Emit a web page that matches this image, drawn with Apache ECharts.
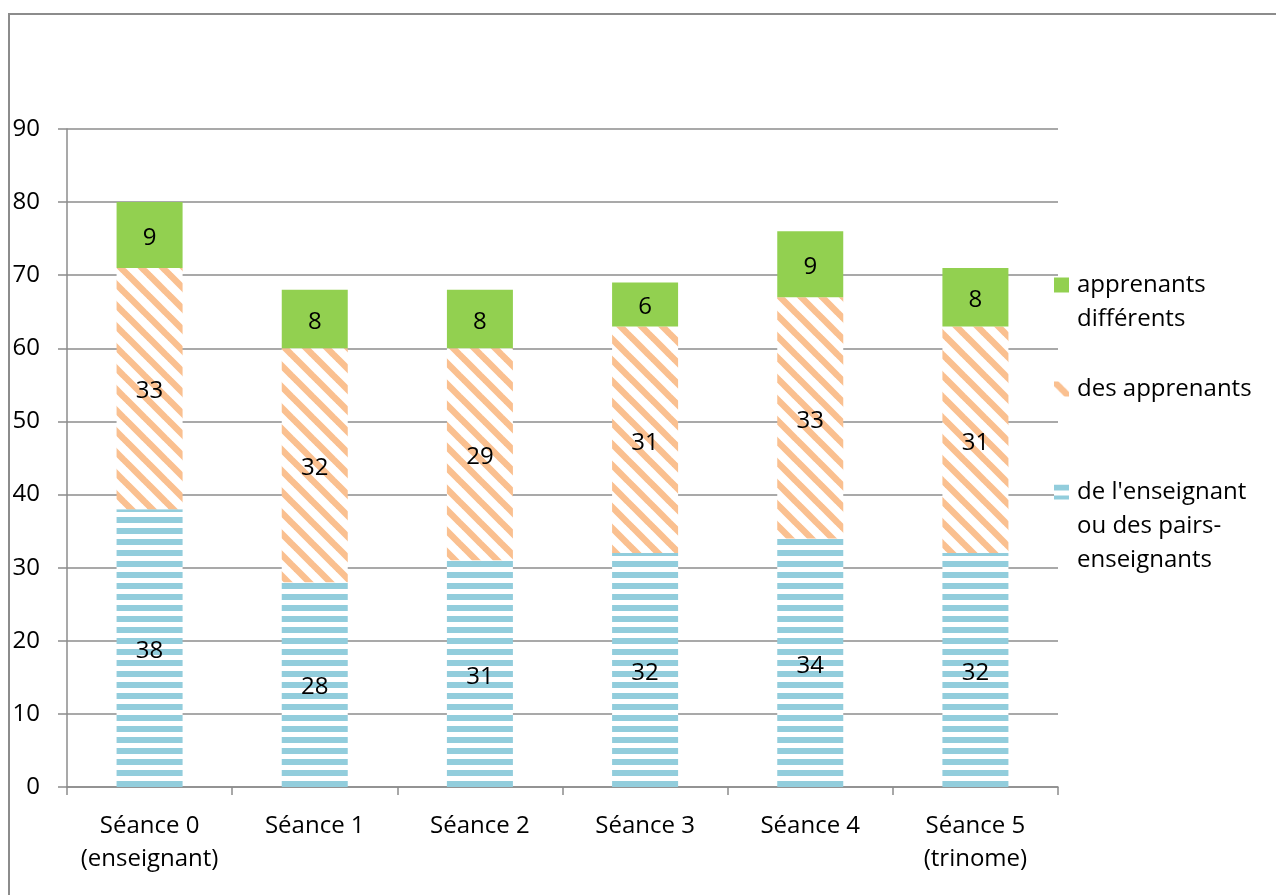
<!DOCTYPE html>
<html>
<head>
<meta charset="utf-8">
<script src="https://cdn.jsdelivr.net/npm/echarts@6/dist/echarts.min.js"></script>
<style>
html,body{margin:0;padding:0;background:#fff;}
#chart{width:1276px;height:895px;}
</style>
</head>
<body>
<div id="chart"></div>
<script>
const categories = ['Séance 0\n(enseignant)', 'Séance 1', 'Séance 2', 'Séance 3', 'Séance 4', 'Séance 5\n(trinome)'];
const seriesNames = ["de l'enseignant\nou des pairs-\nenseignants", 'des apprenants', 'apprenants\ndifférents'];
const enseignant = [38, 28, 31, 32, 34, 32];
const apprenants = [33, 32, 29, 31, 33, 31];
const differents = [9, 8, 8, 6, 9, 8];
const yTicks = [0, 10, 20, 30, 40, 50, 60, 70, 80, 90];

const FONT = '"Open Sans", sans-serif';
const BLUE = '#92CDDC';
const ORANGE = '#FAC090';
const GREEN = '#92D050';
const GRAY = '#8C8C8C';

function hStripes() {
  const c = document.createElement('canvas');
  c.width = 11; c.height = 11;
  const g = c.getContext('2d');
  g.fillStyle = '#fff'; g.fillRect(0, 0, 11, 11);
  g.fillStyle = BLUE; g.fillRect(0, 0, 11, 6);
  return c;
}
function dStripes() {
  const P = 21;
  const c = document.createElement('canvas');
  c.width = P; c.height = P;
  const g = c.getContext('2d');
  g.fillStyle = '#fff'; g.fillRect(0, 0, P, P);
  g.strokeStyle = ORANGE; g.lineWidth = 6.5;
  for (const o of [-P, 0, P]) {
    g.beginPath();
    g.moveTo(o - 2, -2);
    g.lineTo(o + P + 2, P + 2);
    g.stroke();
  }
  return c;
}

const blueFill = { image: hStripes(), repeat: 'repeat' };
const orangeFill = { image: dStripes(), repeat: 'repeat' };

const chart = echarts.init(document.getElementById('chart'), null, { renderer: 'canvas' });

const labelStyle = { show: true, position: 'inside', offset: [0, 3], color: '#000', fontFamily: FONT, fontSize: 24 };

function legendFor(name, top, blankLines) {
  return {
    data: [name],
    left: 1054,
    top: top,
    orient: 'vertical',
    padding: 0,
    itemWidth: 15,
    itemHeight: 15,
    icon: 'rect',
    selectedMode: false,
    formatter: n => '\n'.repeat(blankLines) + n,
    textStyle: { fontFamily: FONT, fontSize: 24, color: '#000', lineHeight: 34, padding: [0, 0, 0, 3] }
  };
}

chart.setOption({
  animation: false,
  backgroundColor: '#fff',
  graphic: [{
    type: 'rect',
    shape: { x: 9, y: 14, width: 1400, height: 1000 },
    style: { fill: 'none', stroke: GRAY, lineWidth: 2 },
    silent: true,
    z: -10
  }],
  legend: [
    legendFor(seriesNames[2], 234, 1),
    legendFor(seriesNames[1], 372, 0),
    legendFor(seriesNames[0], 407, 2)
  ],
  grid: { left: 67, right: 218, top: 129, bottom: 108, containLabel: false },
  xAxis: {
    type: 'category',
    data: categories,
    axisLine: { lineStyle: { color: GRAY, width: 1.5 } },
    axisTick: { show: true, length: 8, lineStyle: { color: GRAY, width: 1.5 } },
    axisLabel: { color: '#000', fontFamily: FONT, fontSize: 24, lineHeight: 33, margin: 23, interval: 0 }
  },
  yAxis: {
    type: 'value',
    min: 0, max: 90, interval: 10,
    axisLine: { show: true, lineStyle: { color: GRAY, width: 1.5 } },
    axisTick: { show: true, length: 9, lineStyle: { color: GRAY, width: 1.5 } },
    splitLine: { show: true, lineStyle: { color: GRAY, width: 1.5 } },
    axisLabel: {
      color: '#000', fontFamily: FONT, fontSize: 24, margin: 27,
      formatter: v => (yTicks.indexOf(v) >= 0 ? String(v) : '')
    }
  },
  series: [
    { name: seriesNames[0], type: 'bar', stack: 's', data: enseignant, barWidth: 66,
      itemStyle: { color: blueFill }, label: labelStyle },
    { name: seriesNames[1], type: 'bar', stack: 's', data: apprenants, barWidth: 66,
      itemStyle: { color: orangeFill }, label: labelStyle },
    { name: seriesNames[2], type: 'bar', stack: 's', data: differents, barWidth: 66,
      itemStyle: { color: GREEN }, label: labelStyle }
  ]
});
</script>
</body>
</html>
